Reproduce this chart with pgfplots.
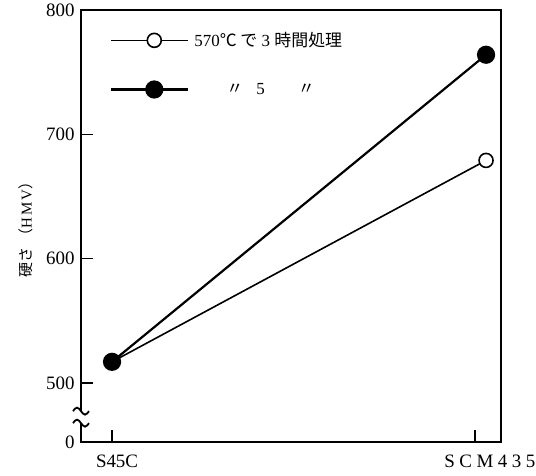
\documentclass[border=0pt]{standalone}
\usepackage{fontspec}
\setmainfont{Liberation Serif}
\newfontfamily\cjk{Noto Sans CJK JP}
\usepackage{pgfplots}
\pgfplotsset{compat=1.18}
\begin{document}
\begin{tikzpicture}[x=1bp,y=1bp]
\path[use as bounding box] (0,0) rectangle (536,476);
\begin{axis}[
  name=ax,
  at={(81bp,34bp)}, anchor=south west,
  scale only axis, width=420bp, height=432bp,
  xmin=-0.083, xmax=1.04, ymin=452.5, ymax=800,
  xtick={0,0.97},
  xticklabels={\hspace*{10bp}S45C, \hspace*{30bp}S\hspace{4.5bp}C\hspace{4.5bp}M\hspace{4.5bp}4\hspace{4.5bp}3\hspace{4.5bp}5},
  ytick={452.5,500,600,700,800}, yticklabels={0,500,600,700,800},
  tick align=inside, xtick pos=bottom, ytick pos=left,
  major tick length=12bp,
  every tick/.style={black, line width=1.5bp},
  tick label style={font=\fontsize{19}{19}\selectfont},
  xticklabel style={yshift=-9bp},
  yticklabel style={xshift=-3bp},
  /pgf/number format/assume math mode=true,
  ylabel={{\cjk\fontsize{15}{15}\selectfont 硬さ}\hspace{4bp}{\cjk\fontsize{15}{15}\selectfont （}\fontsize{15}{15}\selectfont H\hspace{2bp}M\hspace{2bp}V{\cjk\fontsize{15}{15}\selectfont ）}},
  every axis y label/.style={at={(axis description cs:-0.131,0.5)}, rotate=90, anchor=center},
  legend style={at={(axis description cs:0.069,0.953)}, anchor=north west, draw=none, fill=none,
    font=\fontsize{17}{17}\selectfont, row sep=31bp, inner sep=0pt,
    /tikz/every odd column/.append style={column sep=3bp}},
  legend cell align=left,
  legend image code/.code={\draw[#1, mark repeat=2, mark phase=2] plot coordinates {(0bp,0bp) (43bp,0bp) (77bp,0bp)};},
]
\addplot[black, line width=1.6bp, mark=*, mark options={fill=white, line width=1.6bp}, mark size=7bp]
  coordinates {(0,517) (1,679)};
\addlegendentry{570{\cjk ℃ で} 3 {\cjk 時間処理}}
\addplot[black, line width=2.2bp, mark=*, mark options={fill=black}, mark size=8bp]
  coordinates {(0,517) (1,764)};
\addlegendentry{\hspace*{32bp}{\cjk 〃}\hspace{13bp}5\hspace{33bp}{\cjk 〃}}
\coordinate (bk) at (axis cs:-0.083,472.5);
\end{axis}
\draw[line width=2.6bp, line cap=rect] (ax.south west) rectangle (ax.north east);
\fill[white] ([xshift=-3bp,yshift=-6bp]bk) rectangle ([xshift=3bp,yshift=6bp]bk);
\draw[line width=1.8bp, shift={([yshift=6bp]bk)}] (-8bp,0) sin (-4bp,3.5bp) cos (0,0) sin (4bp,-3.5bp) cos (8bp,0);
\draw[line width=1.8bp, shift={([yshift=-6bp]bk)}] (-8bp,0) sin (-4bp,3.5bp) cos (0,0) sin (4bp,-3.5bp) cos (8bp,0);
\end{tikzpicture}
\end{document}
